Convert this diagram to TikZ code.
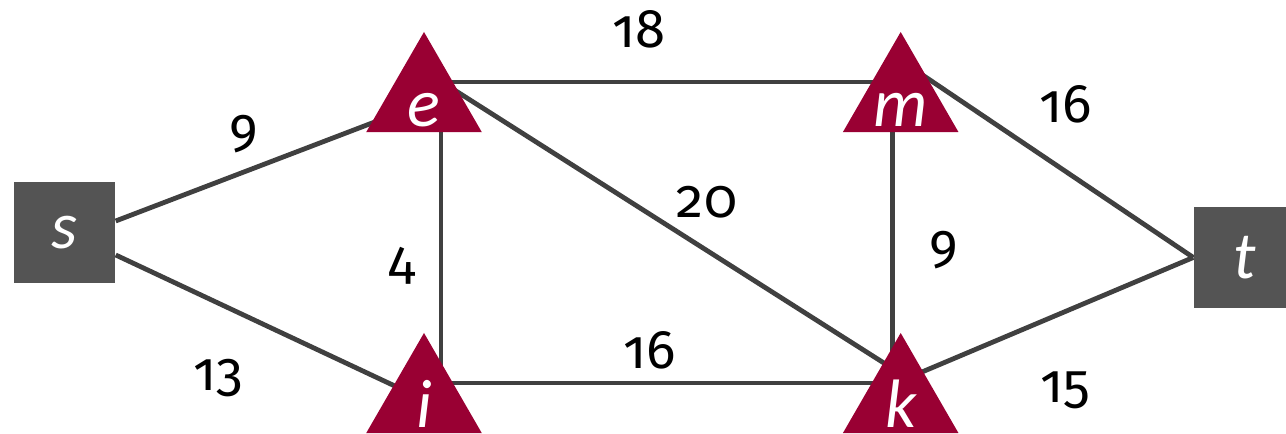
\documentclass[tikz,border=0pt]{standalone}
\usepackage{fontspec}
\setmainfont{Carlito}
\newfontfamily\wtfont{Fira Sans}[Numbers=OldStyle]
\usepackage{xcolor}
\usetikzlibrary{shapes.geometric, backgrounds}
\definecolor{termgray}{HTML}{545454}
\definecolor{vtxred}{HTML}{990033}
\definecolor{edgegray}{HTML}{404040}

\begin{document}
\begin{tikzpicture}[
      term/.style={rectangle, fill=termgray, minimum size=1.01cm, inner sep=0pt,
        font=\fontsize{19}{22}\selectfont\itshape, text=white},
      vtx/.style={regular polygon, regular polygon sides=3, fill=vtxred,
        minimum size=1.334cm, inner sep=0pt},
      vname/.style={anchor=base, inner sep=0pt, font=\fontsize{19.5}{22}\selectfont\itshape, text=white},
      wt/.style={font=\wtfont\fontsize{15.5}{18}\selectfont, text=black},
      edge/.style={line width=0.048cm, edgegray}
    ]
      \clip (0,0) rectangle (12.86,4.34);
      % terminals
      \node[term] (s) at (0.645,2.015) {s};
      \node[term] (t) at (12.445,1.765) {t};
      % inner vertices
      \node[vtx] (e) at (4.24,3.353) {};
      \node[vtx] (m) at (9.007,3.353) {};
      \node[vtx] (i) at (4.24,0.343) {};
      \node[vtx] (k) at (9.007,0.343) {};
      \node[vname] (e-l) at ([yshift=-0.283cm]e.center) {e};
      \node[vname] (m-l) at ([yshift=-0.283cm]m.center) {m};
      \node[vname] (i-l) at ([yshift=-0.283cm]i.center) {i};
      \node[vname] (k-l) at ([yshift=-0.283cm]k.center) {k};
      % weights
      \node[wt] (w-se) at (2.44,3.00) {9};
      \node[wt] (w-si) at (2.18,0.56) {13};
      \node[wt] (w-ei) at (4.02,1.68) {4};
      \node[wt] (w-em) at (6.39,4.05) {18};
      \node[wt] (w-ek) at (7.07,2.32) {20};
      \node[wt] (w-ik) at (6.50,0.84) {16};
      \node[wt] (w-mk) at (9.44,1.84) {9};
      \node[wt] (w-mt) at (10.66,3.30) {16};
      \node[wt] (w-kt) at (10.65,0.44) {15};
      \begin{scope}[on background layer]
        \draw[edge] ([yshift=0.115cm]s.east) -- ([yshift=-0.045cm]e.center);
        \draw[edge] ([yshift=-0.225cm]s.east) -- (i.center);
        \draw[edge] ([yshift=0.167cm]e.center) -- ([yshift=0.167cm]m.center);
        \draw[edge] ([yshift=0.167cm]i.center) -- ([yshift=0.167cm]k.center);
        \draw[edge] ([xshift=0.17cm]e.center) -- ([xshift=0.17cm]i.center);
        \draw[edge] ([xshift=-0.08cm]m.center) -- ([xshift=-0.08cm]k.center);
        \draw[edge] ([yshift=0.28cm]e.center) -- ([yshift=0.26cm]k.center);
        \draw[edge] ([yshift=0.384cm]m.center) -- (t.west);
        \draw[edge] ([yshift=0.187cm]k.center) -- (t.west);
      \end{scope}
    \end{tikzpicture}
\end{document}
